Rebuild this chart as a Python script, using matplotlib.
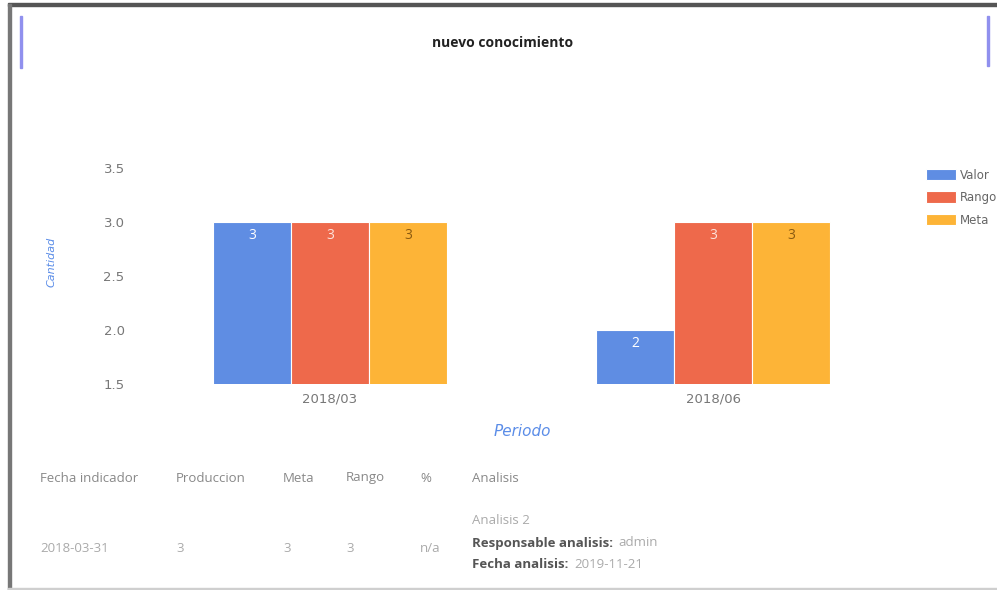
import matplotlib
matplotlib.use("Agg")
import matplotlib.pyplot as plt
from matplotlib.patches import Rectangle
import numpy as np

periodos = ["2018/03", "2018/06"]
valor = [3, 2]
rango = [3, 3]
meta = [3, 3]
series = ["Valor", "Rango", "Meta"]
colores = ["#5f8de3", "#ee694b", "#fdb437"]
color_etiqueta = ["#ffffff", "#fde3dc", "#8a5a10"]

cabecera = ["Fecha indicador", "Produccion", "Meta", "Rango", "%", "Analisis"]
fila = ["2018-03-31", "3", "3", "3", "n/a"]

W, H = 997, 590
fig = plt.figure(figsize=(W / 100, H / 100), dpi=100)
fig.patch.set_facecolor("white")

def fx(px):
    return px / W

def fy(py):
    return 1 - py / H

# marco de la tarjeta
fig.patches.append(Rectangle((fx(8), fy(6)), 1, 3 / H, transform=fig.transFigure, color="#555555"))
fig.patches.append(Rectangle((fx(8), 0), 3 / W, fy(4), transform=fig.transFigure, color="#777777"))
fig.patches.append(Rectangle((fx(8), 0), 1, 2 / H, transform=fig.transFigure, color="#cfcfcf"))
# barras azules del encabezado
fig.patches.append(Rectangle((fx(19.5), fy(68)), 2 / W, 52 / H, transform=fig.transFigure, color="#9090ee"))
fig.patches.append(Rectangle((fx(987), fy(66)), 2 / W, 50 / H, transform=fig.transFigure, color="#9090ee"))

fig.text(fx(503), fy(43), "nuevo conocimiento", ha="center", va="center",
         fontsize=10, fontweight="bold", color="#222222", family="Open Sans")

ax = fig.add_axes([fx(138.5), fy(384), fx(904.5) - fx(138.5), (384 - 168) / H])
x = np.arange(len(periodos))
ancho = 0.204
datos = [valor, rango, meta]
for i, (serie, vals) in enumerate(zip(series, datos)):
    barras = ax.bar(x + (i - 1) * ancho, vals, ancho, color=colores[i], label=serie,
                    edgecolor="white", linewidth=0.8)
    ax.bar_label(barras, padding=-15, color=color_etiqueta[i], fontsize=10, family="Open Sans")

ax.set_xlim(-0.5, 1.5)
ax.set_ylim(1.5, 3.5)
ax.set_yticks([1.5, 2.0, 2.5, 3.0, 3.5])
ax.set_yticklabels(["1.5", "2.0", "2.5", "3.0", "3.5"])
ax.set_xticks(x)
ax.set_xticklabels(periodos)
ax.tick_params(length=0, labelsize=9.5, labelcolor="#777777", pad=6)
ax.tick_params(axis="y", pad=10)
for s in ax.spines.values():
    s.set_visible(False)

fig.text(fx(52), fy(262), "Cantidad", rotation=90, ha="center", va="center",
         fontsize=8, color="#5b8de8", style="italic")
fig.text(fx(522), fy(431), "Periodo", ha="center", va="center",
         fontsize=11, color="#5b8de8", style="italic")

fig.legend(loc="upper left", bbox_to_anchor=(fx(915), fy(158)), frameon=False,
           fontsize=8.5, handlelength=2.6, handleheight=1.1, labelspacing=0.8,
           handletextpad=0.3, labelcolor="#666666")

# tabla de resultados
col_x = [40, 176, 283, 346, 420, 472]
for cx, txt in zip(col_x, cabecera):
    fig.text(fx(cx), fy(478), txt, ha="left", va="center", fontsize=9.5,
             color="#888888", family="Open Sans")
for cx, txt in zip(col_x[:5], fila):
    fig.text(fx(cx), fy(549), txt, ha="left", va="center", fontsize=9.5,
             color="#aaaaaa", family="Open Sans")

fig.text(fx(472), fy(521), "Analisis 2", ha="left", va="center", fontsize=9.5,
         color="#aaaaaa", family="Open Sans")
detalle = [("Responsable analisis:", "admin", 543), ("Fecha analisis:", "2019-11-21", 564)]
for etiqueta, valor_txt, py in detalle:
    t = fig.text(fx(472), fy(py), etiqueta, ha="left", va="center", fontsize=9.5,
                 color="#555555", fontweight="bold", family="Open Sans")
    fig.add_artist(plt.Annotation(valor_txt, xy=(1, 0.5), xycoords=t, xytext=(4, 0),
                                  textcoords="offset points", ha="left", va="center",
                                  fontsize=9.5, color="#aaaaaa", family="Open Sans"))

fig.savefig("out.png", dpi=100)
